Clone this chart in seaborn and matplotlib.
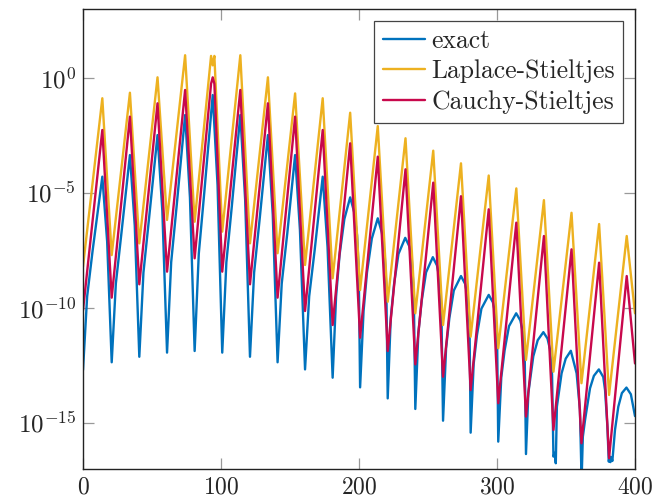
import numpy as np
import pandas as pd
import matplotlib
matplotlib.use('Agg')
import matplotlib.pyplot as plt
import seaborn as sns
from matplotlib.ticker import NullLocator, LogFormatterMathtext

# values are log10 of the plotted quantity
approx_x = [0, 14, 20.8, 34, 40.8, 54, 60.9, 74, 80.9, 92.8, 94, 95.2, 100.9, 114, 121, 134, 141,
            153.7, 160.9, 173.7, 180.9, 193.6, 200.8, 213.6, 220.8, 233.7, 240.8, 253.8, 260.9,
            273.9, 280.9, 294, 300.9, 314, 321, 334, 340.9, 354, 361.2, 374, 381.2, 394, 400]
laplace_log = [-8.2, -0.88, -7.70, -0.64, -7.19, 0.03, -6.17, 0.99, -6.25, 0.96, 0.55, 0.96, -6.68,
               0.99, -7.19, 0.03, -7.62, -0.67, -8.13, -0.88, -8.71, -1.51, -9.22, -2.09, -9.73,
               -2.62, -10.23, -3.16, -10.74, -3.71, -11.25, -4.24, -11.75, -4.80, -12.26, -5.31,
               -12.77, -5.86, -13.27, -6.35, -13.78, -6.87, -10.23]
cauchy_log = [-10.1, -2.26, -9.55, -1.68, -8.97, -1.10, -8.42, -0.52, -7.84, -0.25, 0.03, -0.25, -8.42,
              -0.52, -8.97, -1.10, -9.55, -1.68, -10.13, -2.26, -10.74, -2.84, -11.29, -3.42, -11.87,
              -3.97, -12.45, -4.55, -12.99, -5.14, -13.57, -5.71, -14.14, -6.29, -14.72, -6.87,
              -15.30, -7.45, -15.88, -8.03, -16.53, -8.61, -12.41]

exact_x = [0, 3, 7, 14, 17.5, 20.8,
           23.8, 27.8, 34, 37.5, 40.8,
           43.8, 47.8, 54, 57.5, 60.9,
           63.9, 67.9, 74, 77.5, 80.9,
           83.9, 87.9, 94, 97.5, 100.9,
           103.9, 107.9, 114, 117.5, 121,
           124, 128, 134, 137.5, 141,
           144, 148, 153.7, 157.2, 160.9,
           163.9, 167.9, 173.7, 177.2, 180.9,
           183.4, 185.9, 189.4, 193.6, 196.6, 198.6, 199.8, 200.8,
           203.3, 205.8, 209.3, 213.6, 216.6, 218.6, 219.8, 220.8,
           223.0, 225.4, 228.6, 233.5, 236.5, 238.3, 239.7, 240.8,
           243.0, 245.4, 248.6, 253.5, 256.5, 258.3, 259.7, 260.9,
           263.1, 265.5, 268.7, 273.9, 276.9, 278.7, 280.1, 280.9,
           283.1, 285.5, 288.7, 294, 297, 298.8, 300.1, 300.9,
           303.1, 305.5, 308.7, 313.9, 316.9, 318.7, 320.1, 321,
           322.7, 326.3, 329.5, 333.6, 336.6, 338.4, 339.9, 340.9, 341.8, 342.6,
           343.4, 346.8, 349.8, 353.5, 357.7, 360.1, 361.3,
           362.2, 363.8, 367.4, 370.2, 373.8, 377, 378.3, 380, 381, 381.6, 382.2, 382.8, 383.6,
           385.5, 387.9, 390.5, 393.8, 397, 400]
exact_log = [-12.7, -9.50, -7.49, -4.29, -7.11, -12.36,
             -8.94, -6.77, -3.35, -6.42, -12.12,
             -8.46, -6.14, -2.48, -5.79, -11.94,
             -8.01, -5.54, -1.61, -5.20, -11.87,
             -7.64, -4.97, -0.74, -4.66, -11.94,
             -8.01, -5.54, -1.61, -5.29, -12.12,
             -8.46, -6.14, -2.48, -5.94, -12.36,
             -8.94, -6.77, -3.35, -6.61, -12.67,
             -9.49, -7.47, -4.29, -7.35, -13.03,
             -9.50, -7.70, -6.13, -5.19, -5.85, -6.84, -8.33, -13.45,
             -10.14, -8.45, -6.98, -6.10, -6.73, -7.67, -9.08, -13.93,
             -10.44, -8.97, -7.65, -6.95, -7.32, -7.92, -9.33, -14.39,
             -11.09, -9.70, -8.45, -7.79, -8.15, -8.71, -10.07, -14.90,
             -11.75, -10.43, -9.24, -8.61, -8.95, -9.50, -10.79, -15.42,
             -12.42, -11.17, -10.03, -9.43, -9.75, -10.26, -11.47, -15.81,
             -13.02, -11.85, -10.79, -10.23, -10.54, -11.03, -12.19, -16.35,
             -13.7, -12.1, -11.4, -11.05, -11.33, -11.8, -12.9, -16.46, -16.3, -16.75,
             -14.29, -12.84, -12.2, -11.86, -12.84, -14.43, -17.5,
             -15.6, -14.87, -13.49, -12.95, -12.67, -13.0, -13.57, -15.16, -16.68, -16.45, -16.7, -16.5, -16.65,
             -15.3, -14.29, -13.7, -13.46, -13.75, -14.7]

series_names = ['exact', 'Laplace-Stieltjes', 'Cauchy-Stieltjes']
colors = ['#0072BD', '#EDB120', '#C8084C']

df = pd.concat([
    pd.DataFrame({'x': exact_x, 'y': np.power(10.0, exact_log), 'series': series_names[0]}),
    pd.DataFrame({'x': approx_x, 'y': np.power(10.0, laplace_log), 'series': series_names[1]}),
    pd.DataFrame({'x': approx_x, 'y': np.power(10.0, cauchy_log), 'series': series_names[2]}),
], ignore_index=True)

sns.set_style('ticks')
plt.rcParams['font.family'] = 'cmr10'
plt.rcParams['mathtext.fontset'] = 'cm'
plt.rcParams['axes.formatter.use_mathtext'] = True
plt.rcParams['axes.unicode_minus'] = False

fig = plt.figure(figsize=(6.55, 4.98), dpi=100)
ax = fig.add_axes([83 / 655, 1 - 469 / 498, (635 - 83) / 655, (469 - 9) / 498])

sns.lineplot(data=df, x='x', y='y', hue='series', hue_order=series_names, palette=colors,
             estimator=None, sort=False, linewidth=1.7, ax=ax)

ax.set_yscale('log')
ax.set_xlim(0, 400)
ax.set_ylim(1e-17, 1e3)
ax.set_xticks([0, 100, 200, 300, 400])
ax.set_yticks([1e-15, 1e-10, 1e-5, 1e0])
ax.yaxis.set_major_formatter(LogFormatterMathtext())
ax.yaxis.set_minor_locator(NullLocator())
ax.xaxis.set_minor_locator(NullLocator())
ax.set_xlabel('')
ax.set_ylabel('')
ax.tick_params(direction='in', length=8, width=0.9, color='#999999', top=True, right=True,
               labelsize=17, pad=5)
ax.tick_params(axis='y', labelsize=18)
for s in ax.spines.values():
    s.set_color('#222222')
    s.set_linewidth(1.0)

handles, labels = ax.get_legend_handles_labels()
leg = ax.legend(handles, labels, loc='upper right', fontsize=18.5, frameon=True, fancybox=False,
                framealpha=1, edgecolor='#444444', handlelength=1.65, handletextpad=0.25,
                borderpad=0.33, labelspacing=0.27, borderaxespad=0.45)
leg.get_frame().set_linewidth(0.9)

fig.savefig('out.png', dpi=100)
